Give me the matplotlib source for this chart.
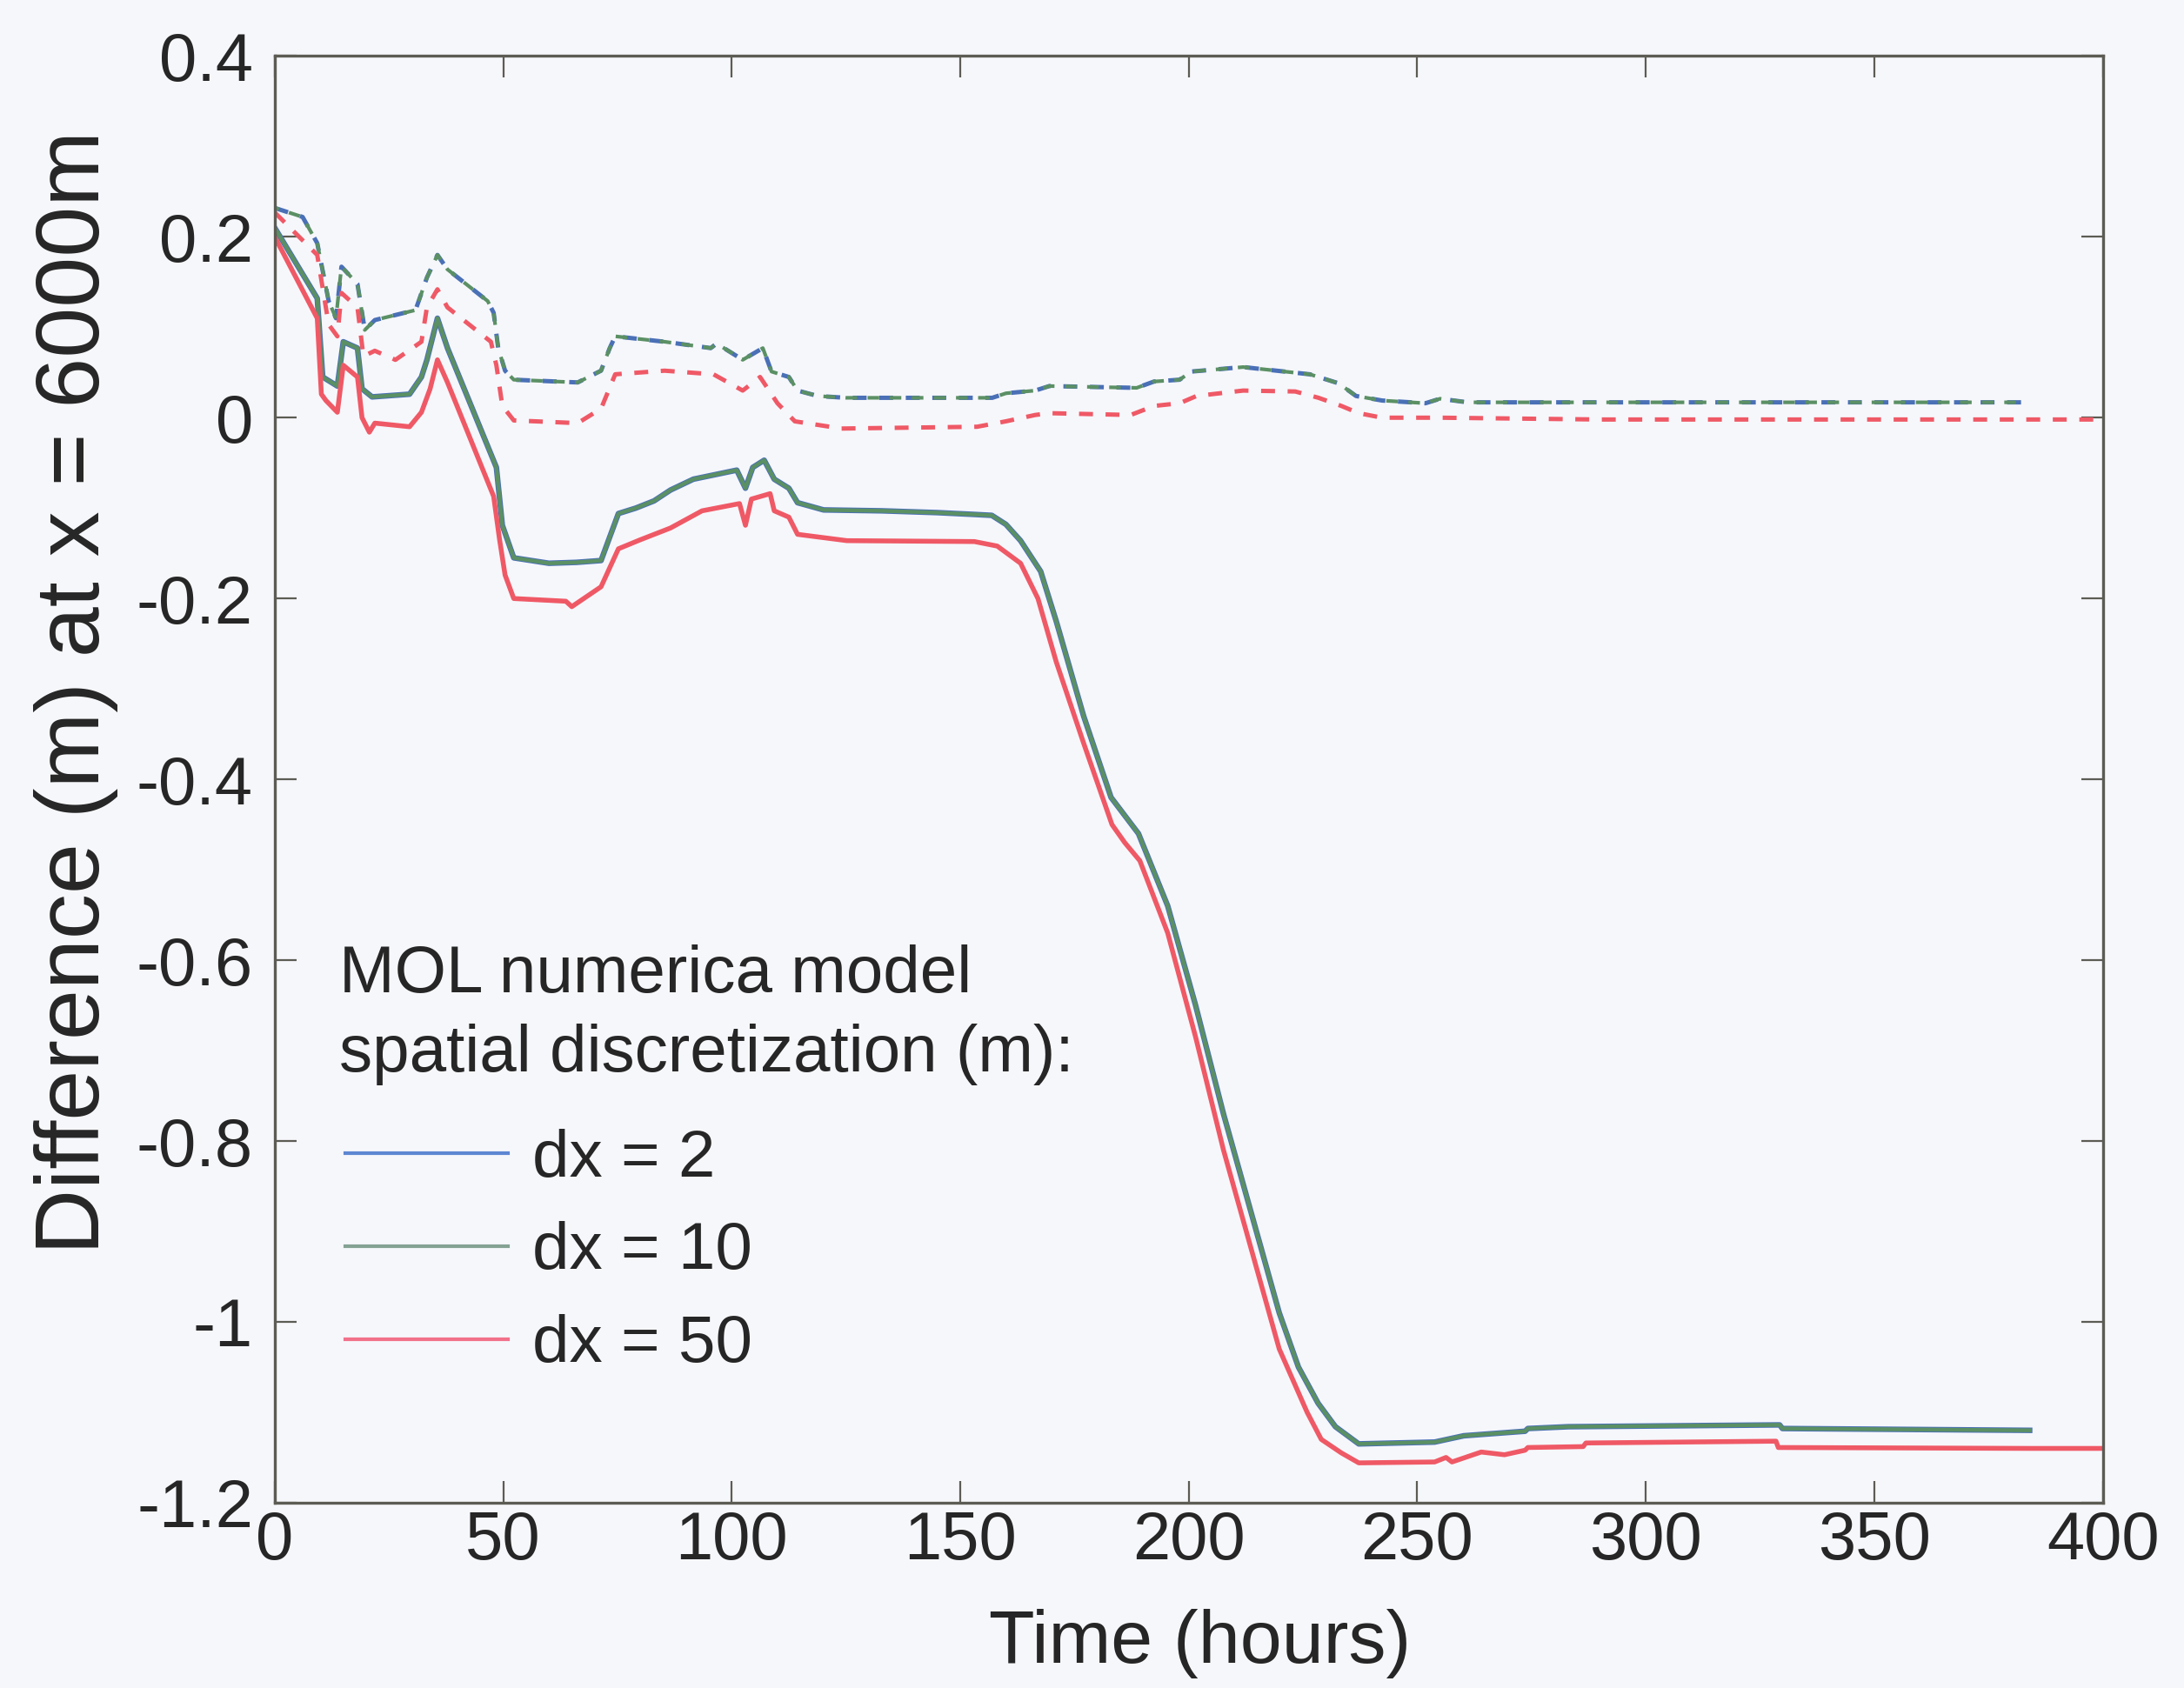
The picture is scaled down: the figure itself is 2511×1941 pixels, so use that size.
import matplotlib
matplotlib.use("Agg")
import matplotlib.pyplot as plt

plt.rcParams['font.family'] = ['Liberation Sans', 'DejaVu Sans']
plt.rcParams['axes.unicode_minus'] = False

# ---------------- data ----------------
# Lower group, solid lines: dx = 2 and dx = 10 (practically coincident)
solid_bg_t = [0, 9.3, 10.5, 13.7, 15.0, 18.1, 19.1, 21.3, 29.5, 32.1, 33.3, 35.6, 37.8,
              48.5, 49.8, 52.3, 60, 66, 71.4, 75.2, 79, 83, 86.6, 91.6, 95.4, 97.3,
              101.1, 103, 104.6, 107.1, 109.3, 112.5, 114.4, 120.1, 132.8, 145, 153.1,
              156.9, 160, 163.2, 167.6, 171, 177, 183, 186, 189, 195.4, 201.5, 207.6,
              213.7, 219.8, 224, 228.3, 232.1, 237.2, 253.8, 260.2, 273.6, 274.2, 283.1,
              329.3, 329.9, 384]
solid_bg_v = [0.21, 0.132, 0.045, 0.035, 0.084, 0.077, 0.032, 0.023, 0.026, 0.045, 0.064, 0.11, 0.077,
              -0.055, -0.119, -0.155, -0.161, -0.16, -0.158, -0.106, -0.1, -0.092, -0.08, -0.068, -0.064, -0.062,
              -0.058, -0.078, -0.055, -0.047, -0.068, -0.078, -0.094, -0.102, -0.103, -0.105, -0.107,
              -0.108, -0.118, -0.136, -0.17, -0.225, -0.33, -0.42, -0.44, -0.46, -0.54, -0.65, -0.77,
              -0.88, -0.99, -1.05, -1.09, -1.116, -1.135, -1.133, -1.126, -1.121, -1.118, -1.116,
              -1.114, -1.118, -1.12]

# Lower group, solid line: dx = 50
solid_r_t = [0, 9.3, 10.2, 11.2, 13.7, 15.0, 18.1, 19.1, 20.7, 21.9, 29.5, 32.1, 34.0, 35.6, 37.8,
             47.9, 49.2, 50.4, 52.3, 63.7, 65, 71.4, 75.2, 80, 86.6, 93.5, 101.7, 103, 104.3, 108.4,
             109.3, 112.5, 114.4, 125.2, 153.1, 158.1, 163.2, 167, 171, 177, 183.2, 186, 189.3,
             195.4, 201.5, 207.6, 213.7, 219.8, 225.9, 229, 233.4, 237.2, 253.8, 256.3, 257.6,
             264, 269.1, 273.6, 274.2, 286.3, 286.9, 328.5, 329, 384, 400]
solid_r_v = [0.2, 0.11, 0.026, 0.019, 0.006, 0.058, 0.045, 0.0, -0.016, -0.006, -0.01, 0.006, 0.032, 0.064, 0.039,
             -0.087, -0.135, -0.174, -0.2, -0.203, -0.209, -0.187, -0.145, -0.135, -0.122, -0.103, -0.095, -0.119, -0.09, -0.084,
             -0.103, -0.11, -0.129, -0.136, -0.137, -0.142, -0.161, -0.2, -0.27, -0.36, -0.45, -0.47, -0.49,
             -0.57, -0.685, -0.81, -0.92, -1.03, -1.1, -1.13, -1.145, -1.156, -1.155, -1.15, -1.155,
             -1.144, -1.147, -1.142, -1.139, -1.138, -1.134, -1.132, -1.139, -1.14, -1.14]

# Upper group, dashed lines: dx = 2 and dx = 10
dash_bg_t = [0, 6.1, 9.3, 11.8, 13.4, 14.6, 18.1, 19.7, 21.9, 30.8, 33.3, 35.6, 37.8, 46.6, 47.9,
             48.9, 50.4, 52.3, 66.3, 71.4, 73.3, 74.5, 85.3, 95.4, 96.7, 102.4, 106.8, 108.7,
             112.5, 114.4, 118.8, 125, 157, 160, 166.4, 169.5, 188.6, 192.4, 198, 200.5, 211.9,
             226.5, 232.8, 236.6, 242.3, 251.8, 255, 261, 383]
dash_bg_v = [0.232, 0.222, 0.193, 0.129, 0.11, 0.167, 0.148, 0.097, 0.108, 0.119, 0.155, 0.18, 0.164, 0.129, 0.116,
             0.077, 0.052, 0.042, 0.039, 0.052, 0.077, 0.09, 0.084, 0.077, 0.082, 0.064, 0.077, 0.051,
             0.045, 0.03, 0.024, 0.022, 0.022, 0.027, 0.03, 0.035, 0.033, 0.04, 0.042, 0.051, 0.056,
             0.048, 0.038, 0.024, 0.019, 0.016, 0.021, 0.017, 0.017]

# Upper group, dashed line: dx = 50
dash_r_t = [0, 9.3, 11.8, 13.7, 14.6, 18.1, 19.4, 21.9, 26.4, 32.1, 33.3, 35.6, 37.8, 47.3, 48.5,
            49.8, 52.3, 66.3, 71.4, 74.5, 85.3, 96, 102.4, 106.2, 110, 113.8, 124, 153.7, 160,
            166.4, 169.5, 187.3, 192.4, 198, 201.7, 211.9, 223.3, 228.4, 233.4, 237.2, 242.3,
            255, 290, 400]
dash_r_v = [0.227, 0.18, 0.103, 0.09, 0.138, 0.122, 0.068, 0.074, 0.064, 0.084, 0.122, 0.142, 0.122, 0.084, 0.058,
            0.013, -0.003, -0.006, 0.01, 0.048, 0.052, 0.048, 0.03, 0.045, 0.016, -0.004, -0.012, -0.01, -0.004,
            0.003, 0.005, 0.003, 0.013, 0.016, 0.024, 0.03, 0.029, 0.022, 0.013, 0.005, 0.0,
            0.0, -0.002, -0.002]

legend_labels = ['dx = 2', 'dx = 10', 'dx = 50']
legend_title_lines = ['MOL numerica model', 'spatial discretization (m):']
x_ticks = [0, 50, 100, 150, 200, 250, 300, 350, 400]
y_ticks = [-1.2, -1.0, -0.8, -0.6, -0.4, -0.2, 0.0, 0.2, 0.4]
y_tick_labels = ['-1.2', '-1', '-0.8', '-0.6', '-0.4', '-0.2', '0', '0.2', '0.4']
x_label = 'Time (hours)'
y_label = 'Difference (m) at x = 6000m'

# ---------------- styling ----------------
bg = '#f6f7fb'
c_blue = '#4a70b6'
c_green = '#5b9064'
c_red = '#ef5966'
leg_colors = ['#5d86d2', '#84a293', '#f2718a']
spine_c = '#5c5c54'
text_c = '#262626'

W, H = 2511, 1941
fig = plt.figure(figsize=(W / 100, H / 100), dpi=100, facecolor=bg)
ax = fig.add_axes([0.1258, 0.1098, 0.837, 0.857], facecolor=bg)

lw_dash = 3.6
dash = (3.2, 2.9)
ax.plot(dash_bg_t, dash_bg_v, color=c_blue, lw=lw_dash, linestyle=(0, dash))
ax.plot(dash_bg_t, dash_bg_v, color=c_green, lw=lw_dash - 0.6, linestyle=(2.0, dash))
ax.plot(dash_r_t, dash_r_v, color=c_red, lw=lw_dash, linestyle=(0, dash))

l2, = ax.plot(solid_bg_t, solid_bg_v, color=c_blue, lw=4.6)
l10, = ax.plot(solid_bg_t, solid_bg_v, color=c_green, lw=3.2)
l50, = ax.plot(solid_r_t, solid_r_v, color=c_red, lw=4.0)

ax.set_xlim(0, 400)
ax.set_ylim(-1.2, 0.4)
ax.set_xticks(x_ticks)
ax.set_xticklabels([str(v) for v in x_ticks])
ax.set_yticks(y_ticks)
ax.set_yticklabels(y_tick_labels)

ax.tick_params(axis='both', which='major', direction='in', length=18, width=1.6,
               color=spine_c, labelcolor=text_c, labelsize=56,
               top=True, right=True)
ax.tick_params(axis='x', pad=6)
ax.tick_params(axis='y', pad=18)
for s in ax.spines.values():
    s.set_color(spine_c)
    s.set_linewidth(2.4)

fig.text(1380 / W, 1 - 1890 / H, x_label, ha='center', va='center',
         fontsize=62, color=text_c)
fig.text(88 / W, 1 - 796 / H, y_label, ha='center', va='center',
         rotation=90, fontsize=75, color=text_c)

# legend title (two lines of text)
fig.text(390 / W, 1 - 1121 / H, legend_title_lines[0], ha='left', va='center',
         fontsize=55, color=text_c)
fig.text(390 / W, 1 - 1212 / H, legend_title_lines[1], ha='left', va='center',
         fontsize=55, color=text_c)

leg = ax.legend([l2, l10, l50], legend_labels,
                loc='center left', bbox_to_anchor=(397 / W, 1 - 1440 / H),
                bbox_transform=fig.transFigure,
                frameon=False, fontsize=55,
                handlelength=2.45, handletextpad=0.36, labelspacing=0.47,
                borderpad=0, borderaxespad=0)
for line, c in zip(leg.get_lines(), leg_colors):
    line.set_linewidth(3.0)
    line.set_color(c)
for t in leg.get_texts():
    t.set_color(text_c)

fig.savefig('out.png', dpi=100, facecolor=bg)
